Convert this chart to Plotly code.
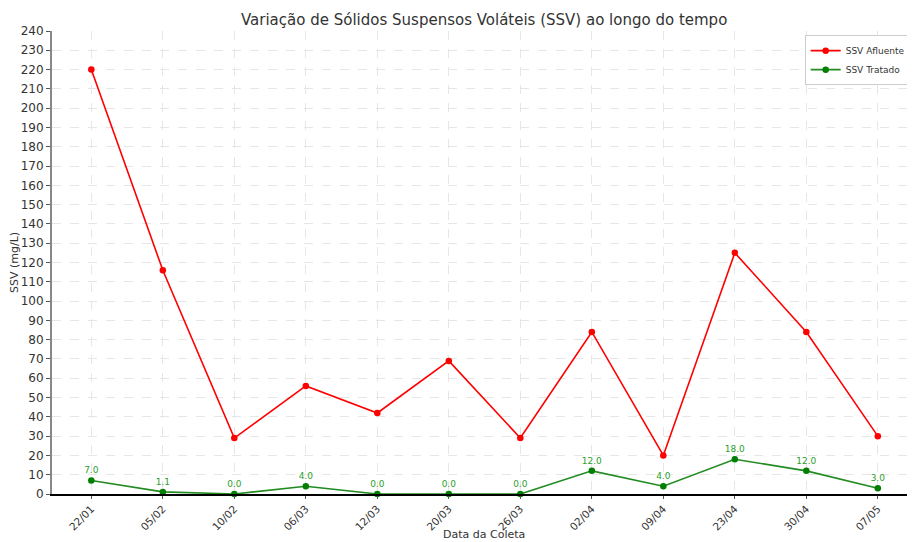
import plotly.graph_objects as go

datas = ["22/01", "05/02", "10/02", "06/03", "12/03", "20/03", "26/03",
         "02/04", "09/04", "23/04", "30/04", "07/05"]
ssv_afluente = [220, 116, 29, 56, 42, 69, 29, 84, 20, 125, 84, 30]
ssv_tratado = [7.0, 1.1, 0.0, 4.0, 0.0, 0.0, 0.0, 12.0, 4.0, 18.0, 12.0, 3.0]
y_ticks = list(range(0, 241, 10))

x_idx = list(range(len(datas)))

fig = go.Figure()
fig.add_trace(go.Scatter(
    x=x_idx, y=ssv_afluente, mode="lines+markers", name="SSV Afluente",
    line=dict(color="#ff0000", width=1.6),
    marker=dict(color="#ff0000", size=6.5),
))
fig.add_trace(go.Scatter(
    x=x_idx, y=ssv_tratado, mode="lines+markers+text", name="SSV Tratado",
    line=dict(color="#228b22", width=1.6),
    marker=dict(color="#007f00", size=6.5),
    text=[f"{v:.1f}" for v in ssv_tratado], textposition="top center",
    textfont=dict(color="#2ca02c", size=9, family="DejaVu Sans"),
    cliponaxis=False,
))

fig.update_layout(
    width=907, height=534,
    margin=dict(l=44, r=0, t=23, b=48),
    paper_bgcolor="white", plot_bgcolor="white",
    font=dict(family="DejaVu Sans", color="#333333", size=11),
    title=dict(text="Variação de Sólidos Suspensos Voláteis (SSV) ao longo do tempo",
               x=0.525, xanchor="center", y=0.9775, yanchor="middle",
               font=dict(size=15, color="#333333")),
    showlegend=True,
    legend=dict(x=0.995, y=0.991, xanchor="right", yanchor="top",
                bordercolor="#cccccc", borderwidth=1, bgcolor="white",
                font=dict(size=9, color="#333333"),
                tracegroupgap=0, itemwidth=30),
    annotations=[dict(text="Data da Coleta", xref="paper", yref="paper",
                      x=0.5, y=-0.087, xanchor="center", yanchor="middle",
                      showarrow=False, font=dict(size=11, color="#333333"))],
)
fig.update_xaxes(
    range=[-0.55, 11.52], tickmode="array", tickvals=x_idx, ticktext=datas,
    tickangle=-45, showgrid=True, gridcolor="#e6e6e6", griddash="dash", gridwidth=1,
    ticks="outside", ticklen=3, tickcolor="#555555",
    showline=True, linecolor="#000000", linewidth=1.5, zeroline=False,
    automargin=False, tickfont=dict(size=10.5),
)
fig.update_yaxes(
    range=[0, 240], tickmode="array", tickvals=y_ticks,
    showgrid=True, gridcolor="#e6e6e6", griddash="dash", gridwidth=1,
    ticks="outside", ticklen=4, tickcolor="#555555",
    showline=True, linecolor="#888888", linewidth=2, zeroline=False,
    automargin=False,
    title=dict(text="SSV (mg/L)", font=dict(size=11), standoff=0),
    tickfont=dict(size=12),
)

fig.write_html("out.html")
